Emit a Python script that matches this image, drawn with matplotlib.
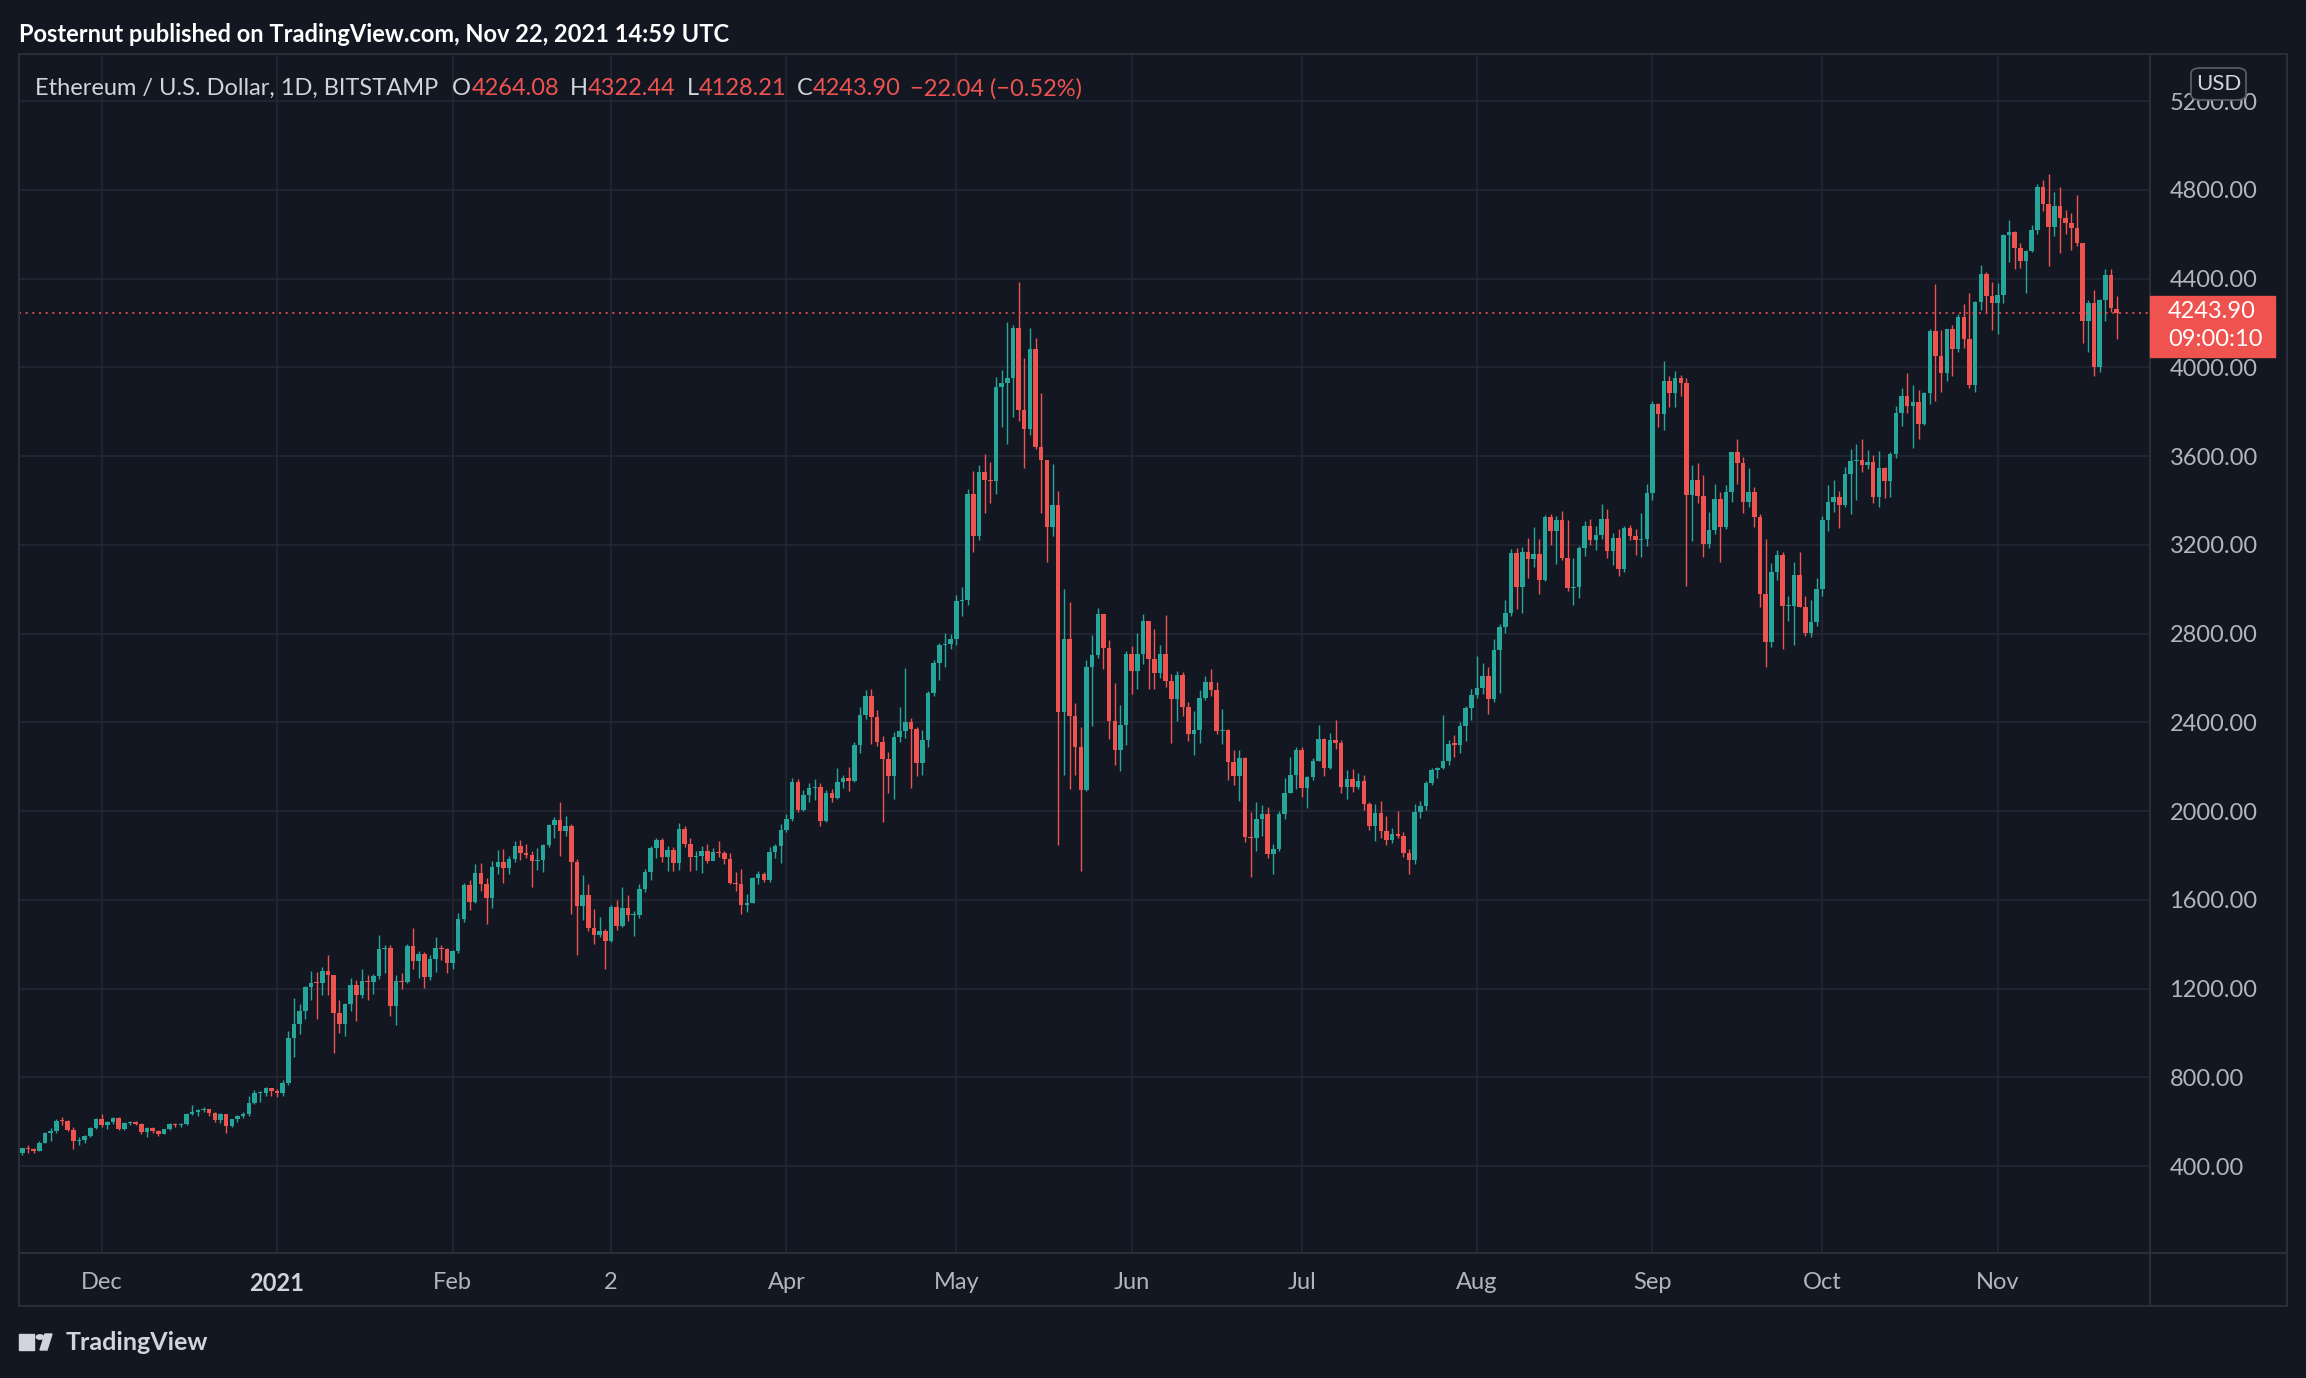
import matplotlib
matplotlib.use("Agg")
import matplotlib.pyplot as plt
import matplotlib.dates as mdates
from matplotlib.patches import Rectangle, FancyBboxPatch, Circle, Polygon
import pandas as pd

# ------------------------------------------------------------
# ETH/USD daily candles, 2020-11-17 .. 2021-11-22
# ------------------------------------------------------------

START_DATE = "2020-11-17"

opens = [
    # Nov 2020
    458, 481, 479, 468, 506, 549, 559, 606, 603, 564, 515, 517, 537, 571,
    # Dec
    612, 587, 598, 616, 569, 596, 601, 592, 555, 573, 560, 545, 568, 590, 586, 589,
    636, 643, 654, 659, 639, 609, 634, 580, 611, 626, 635, 683, 731, 731, 751,
    # Jan 2021
    737, 730, 774, 976, 1042, 1100, 1208, 1225, 1224, 1281, 1262, 1090, 1043, 1130, 1218, 1171,
    1233, 1230, 1257, 1377, 1382, 1121, 1236, 1230, 1391, 1324, 1357, 1253, 1332, 1382, 1377,
    # Feb
    1314, 1369, 1515, 1667, 1592, 1723, 1673, 1610, 1750, 1769, 1745, 1784, 1843, 1813,
    1804, 1777, 1781, 1848, 1938, 1958, 1911, 1935, 1772, 1573, 1622, 1475, 1442, 1459,
    # Mar
    1416, 1570, 1483, 1565, 1532, 1534, 1648, 1726, 1836, 1870, 1792, 1825, 1765, 1918, 1850, 1792,
    1800, 1822, 1775, 1815, 1810, 1786, 1678, 1670, 1577, 1585, 1698, 1715, 1690, 1818, 1845,
    # Apr
    1915, 1965, 2133, 2005, 2073, 2103, 2110, 1957, 2080, 2060, 2133, 2150, 2135, 2298, 2433,
    2519, 2423, 2313, 2235, 2159, 2336, 2360, 2400, 2370, 2216, 2321, 2531, 2666, 2749, 2755,
    # May
    2775, 2948, 2950, 3430, 3238, 3528, 3491, 3488, 3913, 3930, 3950, 4179, 3810, 3720, 4082, 3642,
    3582, 3280, 3380, 2445, 2776, 2429, 2289, 2094, 2650, 2704, 2888, 2736, 2407, 2276, 2388,
    # Jun
    2709, 2633, 2708, 2857, 2687, 2624, 2708, 2588, 2507, 2614, 2468, 2348, 2366, 2508, 2582,
    2545, 2363, 2366, 2223, 2160, 2238, 1885, 1880, 1966, 1985, 1806, 1830, 1985, 2083, 2164,
    # Jul
    2276, 2103, 2155, 2226, 2324, 2196, 2320, 2306, 2110, 2146, 2110, 2137, 2031, 1933, 1993, 1911,
    1870, 1897, 1888, 1813, 1780, 1995, 2025, 2128, 2187, 2195, 2226, 2303, 2300, 2384, 2464,
    # Aug
    2524, 2554, 2609, 2504, 2726, 2831, 2892, 3165, 3012, 3167, 3136, 3160, 3042, 3327, 3262, 3312,
    3139, 3004, 3012, 3187, 3285, 3222, 3245, 3316, 3174, 3230, 3091, 3275, 3240, 3220, 3225,
    # Sep
    3435, 3835, 3788, 3938, 3886, 3953, 3928, 3425, 3492, 3420, 3204, 3267, 3405, 3279, 3438,
    3617, 3570, 3395, 3438, 3327, 2977, 2764, 3079, 3154, 2926, 2926, 3064, 2922, 2804, 2851,
    # Oct
    3001, 3312, 3392, 3415, 3380, 3518, 3578, 3582, 3560, 3575, 3415, 3545, 3490, 3609, 3793, 3871,
    3828, 3845, 3743, 3883, 4165, 4052, 3973, 4172, 4081, 4225, 4127, 3920, 4296, 4420, 4321,
    # Nov
    4290, 4326, 4596, 4611, 4539, 4480, 4525, 4618, 4811, 4734, 4634, 4727, 4674, 4649, 4626,
    4562, 4210, 4291, 4001, 4303, 4416, 4264.08,
]

highs = [
    484, 495, 482, 512, 553, 574, 611, 623, 608, 575, 533, 542, 578, 618,
    637, 602, 622, 622, 598, 605, 604, 594, 576, 577, 563, 570, 596, 593, 596, 638,
    675, 660, 666, 660, 645, 638, 637, 614, 633, 646, 715, 745, 740, 755, 754,
    750, 787, 1010, 1160, 1132, 1210, 1282, 1275, 1300, 1350, 1262, 1150, 1135, 1250, 1240, 1290,
    1260, 1265, 1440, 1395, 1395, 1260, 1270, 1400, 1475, 1370, 1365, 1350, 1435, 1395, 1385,
    1375, 1540, 1675, 1690, 1760, 1765, 1700, 1775, 1825, 1830, 1800, 1866, 1870, 1850,
    1820, 1835, 1850, 1940, 1975, 2040, 1980, 1940, 1785, 1713, 1672, 1560, 1525, 1470,
    1575, 1600, 1657, 1622, 1550, 1670, 1740, 1845, 1880, 1880, 1842, 1840, 1945, 1935, 1880, 1820,
    1845, 1850, 1835, 1866, 1820, 1810, 1725, 1738, 1628, 1705, 1730, 1725, 1840, 1852, 1940,
    1985, 2150, 2145, 2095, 2125, 2145, 2125, 2095, 2098, 2193, 2165, 2200, 2310, 2470, 2545,
    2550, 2456, 2340, 2265, 2355, 2471, 2644, 2420, 2380, 2365, 2540, 2680, 2760, 2801, 2800,
    2975, 3010, 3450, 3533, 3560, 3609, 3575, 3957, 3990, 4203, 4190, 4384, 4042, 4177, 4133, 3884,
    3573, 3565, 3443, 3003, 2943, 2488, 2380, 2680, 2792, 2915, 2890, 2770, 2578, 2479, 2720,
    2745, 2804, 2890, 2857, 2821, 2750, 2886, 2620, 2632, 2625, 2493, 2451, 2545, 2609, 2640,
    2580, 2460, 2370, 2275, 2275, 2245, 1995, 2040, 2030, 2019, 1850, 2000, 2148, 2246, 2291,
    2287, 2160, 2240, 2388, 2330, 2353, 2411, 2320, 2187, 2190, 2170, 2165, 2040, 2031, 2047, 1978,
    1925, 1999, 1905, 1830, 2031, 2045, 2135, 2195, 2198, 2434, 2320, 2345, 2400, 2475, 2550,
    2699, 2669, 2649, 2776, 2845, 2952, 3180, 3185, 3190, 3233, 3279, 3225, 3335, 3340, 3330, 3354,
    3310, 3143, 3195, 3309, 3315, 3285, 3384, 3361, 3255, 3270, 3285, 3289, 3270, 3342, 3473,
    3850, 3840, 4028, 3960, 3985, 3965, 3950, 3562, 3567, 3515, 3347, 3474, 3437, 3470, 3617,
    3676, 3595, 3545, 3462, 3340, 3228, 3120, 3175, 3170, 2970, 3122, 3168, 2970, 2952, 3049,
    3330, 3470, 3492, 3443, 3549, 3632, 3654, 3677, 3627, 3605, 3623, 3549, 3617, 3826, 3905, 3976,
    3920, 3897, 3890, 4175, 4375, 4170, 4175, 4190, 4240, 4284, 4333, 4301, 4460, 4430, 4385,
    4380, 4600, 4663, 4615, 4560, 4530, 4641, 4826, 4845, 4871, 4788, 4811, 4709, 4694, 4776,
    4562, 4303, 4348, 4310, 4443, 4443, 4322.44,
]

lows = [
    451, 459, 461, 467, 505, 513, 549, 585, 559, 478, 497, 506, 533, 569,
    575, 570, 590, 563, 562, 585, 584, 547, 530, 550, 536, 543, 563, 577, 579, 585,
    631, 628, 644, 628, 600, 597, 550, 576, 600, 616, 628, 681, 690, 716, 718,
    714, 716, 766, 890, 998, 1063, 1150, 1065, 1170, 1170, 910, 1000, 985, 1100, 1056, 1160,
    1150, 1175, 1245, 1270, 1078, 1036, 1200, 1225, 1290, 1250, 1205, 1240, 1275, 1330, 1270,
    1290, 1360, 1500, 1555, 1585, 1640, 1492, 1565, 1715, 1678, 1715, 1770, 1780, 1790,
    1660, 1735, 1725, 1840, 1880, 1798, 1890, 1537, 1352, 1510, 1460, 1400, 1435, 1289,
    1410, 1465, 1478, 1505, 1438, 1520, 1635, 1690, 1790, 1770, 1730, 1730, 1735, 1840, 1732, 1735,
    1720, 1765, 1790, 1795, 1760, 1670, 1640, 1535, 1547, 1585, 1670, 1680, 1680, 1790, 1765,
    1905, 1955, 1995, 2000, 2040, 2050, 1935, 1950, 2040, 2055, 2105, 2090, 2130, 2260, 2415,
    2303, 2295, 1953, 2080, 2055, 2310, 2330, 2105, 2160, 2165, 2290, 2520, 2590, 2650, 2730,
    2750, 2880, 2930, 3168, 3220, 3345, 3390, 3430, 3732, 3654, 3777, 3756, 3546, 3696, 3633, 3343,
    3121, 3240, 1849, 2161, 2101, 2161, 1732, 2090, 2384, 2690, 2641, 2325, 2208, 2183, 2300,
    2528, 2551, 2663, 2551, 2551, 2600, 2560, 2309, 2408, 2431, 2318, 2253, 2309, 2500, 2520,
    2348, 2303, 2141, 2120, 2045, 1862, 1702, 1822, 1890, 1791, 1717, 1820, 1965, 2080, 2100,
    2066, 2016, 2140, 2225, 2160, 2190, 2280, 2083, 2055, 2085, 2100, 2006, 1915, 1866, 1880, 1847,
    1855, 1880, 1795, 1717, 1763, 1970, 2005, 2120, 2150, 2190, 2210, 2245, 2260, 2316, 2410,
    2510, 2530, 2440, 2490, 2533, 2805, 2880, 2913, 2895, 3050, 3100, 2979, 3039, 3200, 3114, 3130,
    2990, 2927, 2960, 3150, 3200, 3175, 3225, 3140, 3110, 3060, 3080, 3220, 3154, 3145, 3195,
    3400, 3730, 3716, 3820, 3820, 3870, 3016, 3219, 3390, 3145, 3185, 3250, 3125, 3271, 3395,
    3475, 3345, 3372, 3282, 2918, 2651, 2740, 3040, 2731, 2859, 2751, 2922, 2789, 2783, 2833,
    2971, 3264, 3347, 3275, 3372, 3339, 3400, 3530, 3541, 3388, 3372, 3410, 3415, 3593, 3737, 3796,
    3638, 3677, 3740, 3833, 3850, 3890, 3937, 3962, 4070, 4088, 3905, 3890, 4260, 4247, 4168,
    4152, 4291, 4475, 4445, 4449, 4333, 4518, 4600, 4705, 4458, 4590, 4515, 4600, 4530, 4545,
    4111, 4070, 3963, 3980, 4210, 4250, 4128.21,
]

closes = [
    481, 479, 468, 506, 549, 559, 606, 603, 564, 515, 517, 537, 571, 612,
    587, 598, 616, 569, 596, 601, 592, 555, 573, 560, 545, 568, 590, 586, 589, 636,
    643, 654, 659, 639, 609, 634, 580, 611, 626, 635, 683, 731, 731, 751, 737,
    730, 774, 976, 1042, 1100, 1208, 1225, 1224, 1281, 1262, 1090, 1043, 1130, 1218, 1171, 1233,
    1230, 1257, 1377, 1382, 1121, 1236, 1230, 1391, 1324, 1357, 1253, 1332, 1382, 1377, 1314,
    1369, 1515, 1667, 1592, 1723, 1673, 1610, 1750, 1769, 1745, 1784, 1843, 1813, 1804,
    1777, 1781, 1848, 1938, 1958, 1911, 1935, 1772, 1573, 1622, 1475, 1442, 1459, 1416,
    1570, 1483, 1565, 1532, 1534, 1648, 1726, 1836, 1870, 1792, 1825, 1765, 1918, 1850, 1792, 1800,
    1822, 1775, 1815, 1810, 1786, 1678, 1670, 1577, 1585, 1698, 1715, 1690, 1818, 1845, 1915,
    1965, 2133, 2005, 2073, 2103, 2110, 1957, 2080, 2060, 2133, 2150, 2135, 2298, 2433, 2519,
    2423, 2313, 2235, 2159, 2336, 2360, 2400, 2370, 2216, 2321, 2531, 2666, 2749, 2755, 2775,
    2948, 2950, 3430, 3238, 3528, 3491, 3488, 3913, 3930, 3950, 4179, 3810, 3720, 4082, 3642, 3582,
    3280, 3380, 2445, 2776, 2429, 2289, 2094, 2650, 2704, 2888, 2736, 2407, 2276, 2388, 2709,
    2633, 2708, 2857, 2687, 2624, 2708, 2588, 2507, 2614, 2468, 2348, 2366, 2508, 2582, 2545,
    2363, 2366, 2223, 2160, 2238, 1885, 1880, 1966, 1985, 1806, 1830, 1985, 2083, 2164, 2276,
    2103, 2155, 2226, 2324, 2196, 2320, 2306, 2110, 2146, 2110, 2137, 2031, 1933, 1993, 1911, 1870,
    1897, 1888, 1813, 1780, 1995, 2025, 2128, 2187, 2195, 2226, 2303, 2300, 2384, 2464, 2524,
    2554, 2609, 2504, 2726, 2831, 2892, 3165, 3012, 3167, 3136, 3160, 3042, 3327, 3262, 3312, 3139,
    3004, 3012, 3187, 3285, 3222, 3245, 3316, 3174, 3230, 3091, 3275, 3240, 3220, 3225, 3435,
    3835, 3788, 3938, 3886, 3953, 3928, 3425, 3492, 3420, 3204, 3267, 3405, 3279, 3438, 3617,
    3570, 3395, 3438, 3327, 2977, 2764, 3079, 3154, 2926, 2926, 3064, 2922, 2804, 2851, 3001,
    3312, 3392, 3415, 3380, 3518, 3578, 3582, 3560, 3575, 3415, 3545, 3490, 3609, 3793, 3871, 3828,
    3845, 3743, 3883, 4165, 4052, 3973, 4172, 4081, 4225, 4127, 3920, 4296, 4420, 4321, 4290,
    4326, 4596, 4611, 4539, 4480, 4525, 4618, 4811, 4734, 4634, 4727, 4674, 4649, 4626, 4562,
    4210, 4291, 4001, 4303, 4416, 4266, 4243.90,
]

assert len(opens) == len(highs) == len(lows) == len(closes)

PRICE_TICKS = [400, 800, 1200, 1600, 2000, 2400, 2800, 3200, 3600, 4000, 4400, 4800, 5200]
MONTH_STARTS = ["2020-12-01", "2021-01-01", "2021-02-01", "2021-03-01", "2021-04-01",
                "2021-05-01", "2021-06-01", "2021-07-01", "2021-08-01", "2021-09-01",
                "2021-10-01", "2021-11-01"]
MONTH_LABELS = ["Dec", "2021", "Feb", "2", "Apr", "May", "Jun", "Jul", "Aug", "Sep", "Oct", "Nov"]

LAST_PRICE = 4243.90
COUNTDOWN = "09:00:10"

# ------------------------------------------------------------
# Colours (TradingView dark)
# ------------------------------------------------------------

BG = "#131722"
GRID = "#232733"
BORDER = "#2a2e39"
TEXT = "#b2b5be"
WHITE = "#d1d4dc"
UP = "#26a69a"
DOWN = "#ef5350"

plt.rcParams["font.family"] = ["Lato", "DejaVu Sans"]

W, H = 2306, 1378
fig = plt.figure(figsize=(W / 100, H / 100), dpi=100, facecolor=BG)


def fx(px):
    return px / W


def fy(py):
    return 1 - py / H


# plot area in pixels
PL, PR, PT, PB = 19, 2150, 54, 1253
ax = fig.add_axes([fx(PL), fy(PB), fx(PR - PL), fy(PT) - fy(PB)], facecolor=BG)

dates = pd.date_range(START_DATE, periods=len(closes), freq="D")
x = mdates.date2num(dates)
colors = [UP if c >= o else DOWN for o, c in zip(opens, closes)]
bottoms = [min(o, c) for o, c in zip(opens, closes)]
heights = [max(abs(c - o), 5) for o, c in zip(opens, closes)]

ax.vlines(x, lows, highs, colors=colors, linewidth=1.0, zorder=3)
ax.bar(x, heights, width=0.8, bottom=bottoms, color=colors, linewidth=0, zorder=4)

ax.set_xlim(x[0] - 0.6, x[0] + 375.9)
ax.set_ylim(9, 5412)

# grid
month_x = mdates.date2num(pd.to_datetime(MONTH_STARTS))
for p in PRICE_TICKS:
    ax.axhline(p, color=GRID, linewidth=1.2, zorder=1)
for m in month_x:
    ax.axvline(m, color=GRID, linewidth=1.2, zorder=1)

# last price dotted line
ax.axhline(LAST_PRICE, color=DOWN, linewidth=1.2, linestyle=(0, (1.2, 2.8)), zorder=5)

for s in ax.spines.values():
    s.set_visible(False)

ax.yaxis.tick_right()
ax.set_yticks(PRICE_TICKS)
ax.set_yticklabels([f"{p:.2f}" for p in PRICE_TICKS])
ax.tick_params(axis="y", length=0, pad=14, labelsize=17, labelcolor=TEXT)

ax.set_xticks(month_x)
ax.set_xticklabels(MONTH_LABELS)
ax.tick_params(axis="x", length=0, pad=14, labelsize=17, labelcolor=TEXT)
for lab in ax.get_xticklabels():
    if lab.get_text() == "2021":
        lab.set_fontweight("bold")
        lab.set_color(WHITE)

# frame and scale separators
fig.add_artist(Rectangle((fx(PL), fy(1306)), fx(2287 - PL), fy(PT) - fy(1306),
                         transform=fig.transFigure, fill=False, edgecolor=BORDER, linewidth=1.5))
fig.add_artist(plt.Line2D([fx(PR), fx(PR)], [fy(1306), fy(PT)], color=BORDER, linewidth=1.5))
fig.add_artist(plt.Line2D([fx(PL), fx(2287)], [fy(PB), fy(PB)], color=BORDER, linewidth=1.5))

# last price label on the scale
fig.add_artist(Rectangle((fx(2150), fy(357)), fx(125), fy(296) - fy(357),
                         transform=fig.transFigure, color=DOWN, zorder=10))
fig.text(fx(2168), fy(312), f"{LAST_PRICE:.2f}", color="white", fontsize=17,
         ha="left", va="center", zorder=11)
fig.text(fx(2168), fy(340), COUNTDOWN, color="white", fontsize=17,
         ha="left", va="center", zorder=11)

# USD currency box
fig.add_artist(FancyBboxPatch((fx(2191), fy(100)), fx(55), fy(68) - fy(100),
                              boxstyle="round,pad=0,rounding_size=0.004",
                              transform=fig.transFigure, facecolor=BG,
                              edgecolor="#5d606b", linewidth=1.2, zorder=10))
fig.text(fx(2218.5), fy(84), "USD", color=WHITE, fontsize=16, ha="center", va="center", zorder=11)

# header
fig.text(fx(19), fy(34), "Posternut published on TradingView.com, Nov 22, 2021 14:59 UTC",
         color="white", fontsize=17, fontweight="bold", ha="left", va="center")

# legend line: symbol then OHLC values
renderer = fig.canvas.get_renderer()
legend_parts = [
    ("Ethereum / U.S. Dollar, 1D, BITSTAMP", WHITE, 14),
    ("O", WHITE, 0), ("4264.08", DOWN, 11),
    ("H", WHITE, 0), ("4322.44", DOWN, 11),
    ("L", WHITE, 0), ("4128.21", DOWN, 11),
    ("C", WHITE, 0), ("4243.90", DOWN, 9),
    ("\u221222.04 (\u22120.52%)", DOWN, 0),
]
cx = 35
for txt, col, gap in legend_parts:
    t = fig.text(fx(cx), fy(88.5), txt, color=col, fontsize=17, ha="left", va="center")
    bb = t.get_window_extent(renderer)
    cx += bb.width + gap

# TradingView logo at the bottom
fig.add_artist(Rectangle((fx(19), fy(1350)), fx(15), fy(1334) - fy(1350),
                         transform=fig.transFigure, color=WHITE, zorder=10))
fig.add_artist(Circle((fx(40), fy(1337)), 0.0016, transform=fig.transFigure,
                      color=WHITE, zorder=10))
fig.add_artist(Polygon([(fx(45), fy(1334)), (fx(52), fy(1334)), (fx(47), fy(1350)),
                        (fx(40), fy(1350))], closed=True, transform=fig.transFigure,
                       color=WHITE, zorder=10))
fig.text(fx(66), fy(1342), "TradingView", color=WHITE, fontsize=18, fontweight="bold",
         ha="left", va="center")

fig.savefig("out.png", dpi=100, facecolor=BG)
